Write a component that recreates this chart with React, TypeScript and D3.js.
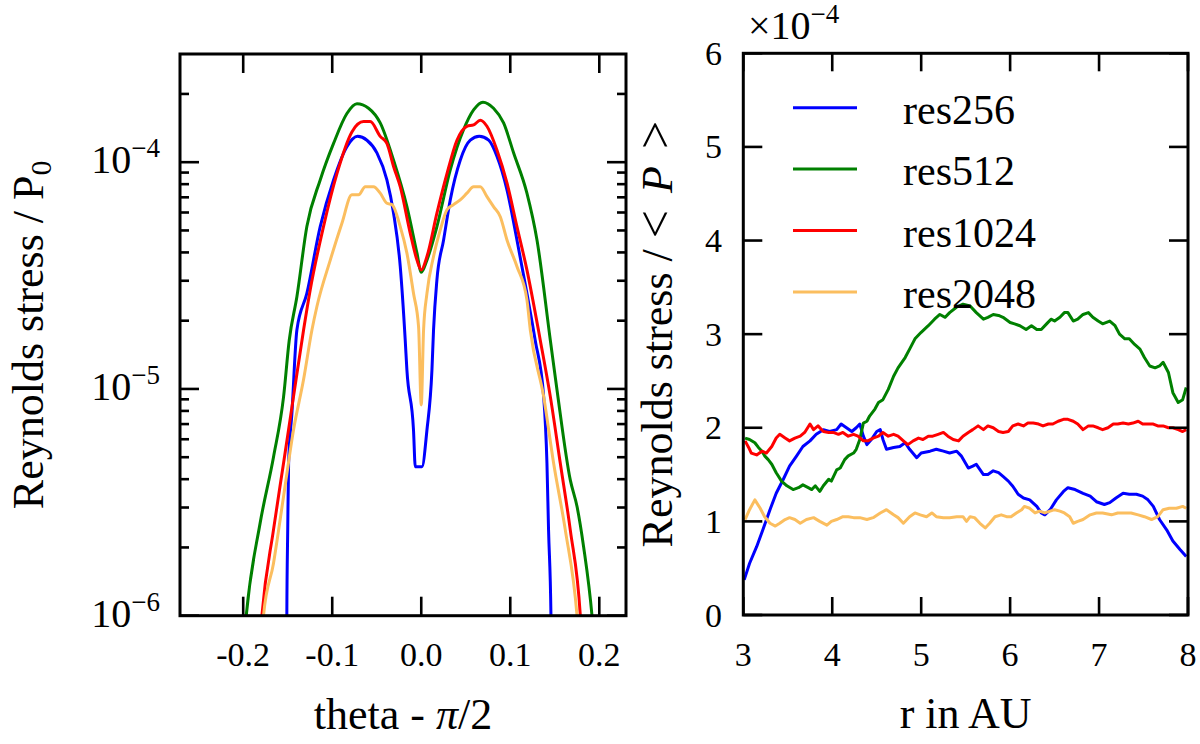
import { useRef, useEffect } from 'react';
import * as d3 from 'd3';

type Pt = [number, number];

const seriesNames = ['res256', 'res512', 'res1024', 'res2048'];
const seriesColors = ['#0000ff', '#008000', '#ff0000', '#fbbe5f'];

// Left panel: Reynolds stress / P0 against theta - pi/2 (log y)
const thetaRes256: Pt[] = [
  [-0.1515, 1e-7], [-0.151, 1e-6], [-0.15, 2.39e-6], [-0.149, 4.7e-6], [-0.1453, 7.8e-6],
  [-0.1397, 1.82e-5], [-0.1285, 2.64e-5], [-0.1135, 5.2e-5], [-0.0985, 8.35e-5], [-0.0835, 1.17e-4],
  [-0.0716, 1.3e-4], [-0.061, 1.25e-4], [-0.0498, 1.1e-4], [-0.0386, 8.35e-5], [-0.0311, 5.96e-5],
  [-0.0236, 3.47e-5], [-0.018, 1.64e-5], [-0.0161, 1.21e-5], [-0.0087, 6.59e-6], [-0.0067, 4.54e-6],
  [0.0008, 4.54e-6], [0.0064, 6.59e-6], [0.012, 1.21e-5], [0.0138, 1.82e-5], [0.0176, 3.03e-5],
  [0.0251, 4.54e-5], [0.0326, 6.82e-5], [0.0438, 1.02e-4], [0.0551, 1.25e-4], [0.0652, 1.3e-4],
  [0.0757, 1.25e-4], [0.0851, 1.06e-4], [0.0963, 7.55e-5], [0.1075, 4.54e-5], [0.1187, 2.64e-5],
  [0.128, 1.64e-5], [0.1375, 9.25e-6], [0.1412, 4.7e-6], [0.143, 2.39e-6], [0.1457, 1e-6], [0.146, 1e-7],
];
const thetaRes512: Pt[] = [
  [-0.2, 7e-7], [-0.1966, 1e-6], [-0.181, 2.56e-6], [-0.166, 5e-6], [-0.1547, 9.2e-6],
  [-0.1483, 1.64e-5], [-0.1397, 2.55e-5], [-0.1285, 5.2e-5], [-0.1135, 8.35e-5], [-0.0985, 1.21e-4],
  [-0.0835, 1.64e-4], [-0.0722, 1.81e-4], [-0.0592, 1.73e-4], [-0.0461, 1.49e-4], [-0.0311, 1.02e-4],
  [-0.0161, 6.37e-5], [-0.0048, 3.97e-5], [0, 3.27e-5], [0.0064, 3.7e-5], [0.0176, 5.2e-5],
  [0.0326, 9.25e-5], [0.0475, 1.39e-4], [0.0588, 1.7e-4], [0.0693, 1.84e-4], [0.0812, 1.73e-4],
  [0.0925, 1.49e-4], [0.1037, 1.1e-4], [0.1187, 7.3e-5], [0.13, 4.54e-5], [0.145, 1.64e-5],
  [0.1525, 9.9e-6], [0.1674, 3.97e-6], [0.175, 3.03e-6], [0.1824, 2.01e-6], [0.1918, 1e-6], [0.195, 7e-7],
];
const thetaRes1024: Pt[] = [
  [-0.182, 7e-7], [-0.179, 1e-6], [-0.166, 2.39e-6], [-0.1547, 4.7e-6], [-0.1435, 9.25e-6],
  [-0.1322, 1.82e-5], [-0.1247, 2.74e-5], [-0.1098, 5.2e-5], [-0.0947, 8.9e-5], [-0.0779, 1.36e-4],
  [-0.0648, 1.51e-4], [-0.0573, 1.51e-4], [-0.0461, 1.3e-4], [-0.0386, 1.21e-4], [-0.0311, 9.57e-5],
  [-0.0236, 7.8e-5], [-0.0124, 4.87e-5], [-0.0048, 3.7e-5], [0, 3.35e-5], [0.0064, 3.84e-5],
  [0.0176, 5.96e-5], [0.0289, 8.9e-5], [0.0401, 1.25e-4], [0.0513, 1.44e-4], [0.0588, 1.46e-4],
  [0.0663, 1.53e-4], [0.0738, 1.44e-4], [0.0851, 1.13e-4], [0.0963, 8.1e-5], [0.1075, 5.2e-5],
  [0.1187, 3.35e-5], [0.1337, 1.64e-5], [0.145, 9.25e-6], [0.1562, 4.7e-6], [0.1674, 2.39e-6],
  [0.1787, 1e-6], [0.181, 7e-7],
];
const thetaRes2048: Pt[] = [
  [-0.18, 7e-7], [-0.1772, 1e-6], [-0.166, 1.7e-6], [-0.1547, 3.35e-6], [-0.1435, 6.59e-6],
  [-0.1322, 1.1e-5], [-0.1228, 1.82e-5], [-0.1172, 2.31e-5], [-0.1022, 3.7e-5], [-0.0891, 5.38e-5],
  [-0.0779, 7.18e-5], [-0.0704, 7.18e-5], [-0.0629, 7.8e-5], [-0.0536, 7.8e-5], [-0.0461, 7.3e-5],
  [-0.0386, 6.59e-5], [-0.0329, 6.5e-5], [-0.0236, 5.2e-5], [-0.0161, 3.97e-5], [-0.0087, 2.64e-5],
  [-0.003, 1.88e-5], [0, 8.5e-6], [0.0026, 1.82e-5], [0.0064, 2.64e-5], [0.0138, 3.84e-5],
  [0.0213, 5.02e-5], [0.0289, 6.17e-5], [0.0363, 6.5e-5], [0.0438, 6.82e-5], [0.0513, 7.3e-5],
  [0.0588, 7.8e-5], [0.0663, 7.8e-5], [0.0738, 7.05e-5], [0.0812, 6.37e-5], [0.0888, 5.75e-5],
  [0.0963, 4.54e-5], [0.1075, 3.47e-5], [0.1187, 2.47e-5], [0.1225, 1.82e-5], [0.1375, 9.25e-6],
  [0.1487, 4.7e-6], [0.1618, 2.39e-6], [0.175, 1e-6], [0.178, 7e-7],
];

// Right panel: Reynolds stress / <P> (units of 1e-4) against r in AU
const radiusRes256: Pt[] = [
  [3.01, 0.375], [3.07, 0.55], [3.15, 0.73], [3.22, 0.91], [3.3, 1.125], [3.37, 1.3], [3.45, 1.45],
  [3.52, 1.59], [3.6, 1.7], [3.67, 1.8], [3.75, 1.86], [3.82, 1.93], [3.9, 1.98], [3.97, 1.96],
  [4.05, 1.98], [4.1, 2.04], [4.16, 2.0], [4.22, 1.96], [4.27, 2.0], [4.31, 2.04], [4.35, 1.91],
  [4.39, 1.82], [4.44, 1.875], [4.5, 1.96], [4.54, 1.98], [4.57, 1.875], [4.61, 1.77], [4.69, 1.79],
  [4.76, 1.8], [4.82, 1.84], [4.87, 1.77], [4.95, 1.68], [5.0, 1.73], [5.1, 1.75], [5.17, 1.77],
  [5.25, 1.75], [5.32, 1.73], [5.4, 1.75], [5.45, 1.7], [5.53, 1.57], [5.58, 1.59], [5.62, 1.61],
  [5.7, 1.5], [5.75, 1.5], [5.81, 1.54], [5.87, 1.52], [5.92, 1.48], [5.98, 1.43], [6.03, 1.375],
  [6.09, 1.29], [6.15, 1.25], [6.22, 1.23], [6.3, 1.16], [6.35, 1.09], [6.39, 1.07], [6.45, 1.125],
  [6.52, 1.23], [6.6, 1.32], [6.65, 1.36], [6.73, 1.34], [6.82, 1.3], [6.9, 1.27], [6.97, 1.21],
  [7.06, 1.18], [7.12, 1.2], [7.19, 1.25], [7.27, 1.3], [7.34, 1.29], [7.42, 1.29], [7.49, 1.27],
  [7.55, 1.23], [7.61, 1.16], [7.68, 1.02], [7.76, 0.91], [7.83, 0.79], [7.91, 0.7], [7.98, 0.625],
];
const radiusRes512: Pt[] = [
  [3.02, 1.89], [3.07, 1.875], [3.13, 1.84], [3.17, 1.79], [3.21, 1.75], [3.24, 1.7], [3.28, 1.66],
  [3.32, 1.61], [3.37, 1.52], [3.43, 1.43], [3.49, 1.38], [3.56, 1.34], [3.62, 1.36], [3.67, 1.39],
  [3.73, 1.36], [3.77, 1.34], [3.81, 1.38], [3.86, 1.32], [3.9, 1.38], [3.96, 1.45], [3.99, 1.43],
  [4.05, 1.55], [4.09, 1.57], [4.14, 1.66], [4.18, 1.7], [4.24, 1.73], [4.27, 1.77], [4.31, 1.875],
  [4.35, 2.05], [4.39, 2.07], [4.42, 2.125], [4.48, 2.2], [4.52, 2.27], [4.57, 2.3], [4.63, 2.41],
  [4.69, 2.55], [4.74, 2.64], [4.82, 2.75], [4.87, 2.84], [4.93, 2.95], [5.0, 3.02], [5.08, 3.09],
  [5.15, 3.16], [5.21, 3.21], [5.27, 3.18], [5.32, 3.23], [5.4, 3.29], [5.47, 3.32], [5.55, 3.3],
  [5.62, 3.23], [5.7, 3.16], [5.75, 3.18], [5.81, 3.21], [5.87, 3.2], [5.92, 3.18], [6.0, 3.125],
  [6.05, 3.11], [6.11, 3.09], [6.18, 3.05], [6.24, 3.09], [6.3, 3.05], [6.35, 3.05], [6.41, 3.11],
  [6.46, 3.16], [6.5, 3.14], [6.56, 3.18], [6.61, 3.23], [6.65, 3.23], [6.71, 3.14], [6.76, 3.16],
  [6.82, 3.21], [6.88, 3.23], [6.93, 3.18], [6.99, 3.14], [7.04, 3.11], [7.12, 3.14], [7.18, 3.09],
  [7.23, 3.0], [7.29, 2.95], [7.34, 2.95], [7.4, 2.89], [7.46, 2.84], [7.51, 2.75], [7.57, 2.66],
  [7.63, 2.64], [7.68, 2.66], [7.72, 2.7], [7.78, 2.59], [7.83, 2.375], [7.89, 2.27], [7.94, 2.3],
  [7.98, 2.43],
];
const radiusRes1024: Pt[] = [
  [3.02, 1.86], [3.06, 1.79], [3.09, 1.73], [3.15, 1.71], [3.21, 1.75], [3.26, 1.73], [3.32, 1.8],
  [3.37, 1.89], [3.41, 1.93], [3.47, 1.89], [3.52, 1.86], [3.58, 1.89], [3.64, 1.91], [3.69, 1.95],
  [3.75, 2.04], [3.79, 1.98], [3.84, 2.02], [3.9, 1.96], [3.96, 1.95], [4.01, 1.95], [4.07, 1.93],
  [4.12, 1.95], [4.18, 1.91], [4.24, 1.93], [4.29, 1.91], [4.35, 1.86], [4.4, 1.86], [4.46, 1.89],
  [4.52, 1.91], [4.57, 1.95], [4.63, 1.91], [4.69, 1.93], [4.74, 1.91], [4.8, 1.86], [4.85, 1.82],
  [4.91, 1.86], [4.97, 1.89], [5.02, 1.875], [5.08, 1.91], [5.13, 1.91], [5.19, 1.93], [5.25, 1.95],
  [5.3, 1.91], [5.36, 1.875], [5.42, 1.86], [5.47, 1.91], [5.53, 1.95], [5.58, 1.98], [5.64, 2.02],
  [5.7, 1.98], [5.75, 2.02], [5.81, 2.0], [5.87, 1.96], [5.92, 1.95], [5.98, 1.96], [6.03, 2.02],
  [6.09, 2.04], [6.15, 2.02], [6.2, 2.05], [6.26, 2.05], [6.32, 2.04], [6.37, 2.02], [6.43, 2.04],
  [6.48, 2.04], [6.54, 2.07], [6.6, 2.09], [6.65, 2.09], [6.71, 2.07], [6.76, 2.04], [6.82, 1.98],
  [6.88, 2.02], [6.93, 2.02], [6.99, 2.0], [7.04, 1.98], [7.1, 2.0], [7.16, 2.04], [7.21, 2.04],
  [7.27, 2.05], [7.33, 2.04], [7.38, 2.05], [7.44, 2.07], [7.49, 2.04], [7.55, 2.04], [7.61, 2.04],
  [7.66, 2.02], [7.72, 2.02], [7.78, 2.0], [7.83, 2.0], [7.89, 1.98], [7.94, 1.96], [7.98, 1.98],
];
const radiusRes2048: Pt[] = [
  [3.02, 1.02], [3.07, 1.125], [3.13, 1.23], [3.19, 1.14], [3.24, 1.05], [3.3, 0.98], [3.36, 0.95],
  [3.41, 0.98], [3.47, 1.02], [3.52, 1.04], [3.58, 1.02], [3.64, 0.98], [3.71, 1.02], [3.79, 1.04],
  [3.86, 1.0], [3.94, 0.96], [3.99, 1.0], [4.05, 1.02], [4.12, 1.05], [4.18, 1.05], [4.24, 1.04],
  [4.31, 1.04], [4.39, 1.02], [4.46, 1.04], [4.54, 1.09], [4.61, 1.125], [4.69, 1.07], [4.74, 1.04],
  [4.8, 0.98], [4.87, 1.05], [4.93, 1.09], [4.99, 1.07], [5.06, 1.05], [5.12, 1.09], [5.17, 1.05],
  [5.25, 1.04], [5.32, 1.04], [5.4, 1.05], [5.47, 1.05], [5.51, 1.0], [5.55, 1.05], [5.6, 1.04],
  [5.66, 0.98], [5.72, 0.93], [5.77, 0.98], [5.83, 1.05], [5.9, 1.07], [5.96, 1.05], [6.01, 1.05],
  [6.07, 1.09], [6.13, 1.125], [6.16, 1.16], [6.22, 1.14], [6.28, 1.09], [6.33, 1.11], [6.39, 1.09],
  [6.45, 1.11], [6.5, 1.125], [6.56, 1.11], [6.61, 1.09], [6.67, 1.05], [6.71, 0.98], [6.76, 1.0],
  [6.82, 1.02], [6.9, 1.07], [6.97, 1.09], [7.04, 1.09], [7.14, 1.07], [7.21, 1.09], [7.29, 1.09],
  [7.36, 1.09], [7.44, 1.07], [7.51, 1.05], [7.59, 1.02], [7.66, 1.05], [7.72, 1.125], [7.79, 1.14],
  [7.87, 1.14], [7.94, 1.16], [7.98, 1.14],
];

const thetaSeries = [thetaRes256, thetaRes512, thetaRes1024, thetaRes2048];
const radiusSeries = [radiusRes256, radiusRes512, radiusRes1024, radiusRes2048];

const thetaTicks = [-0.2, -0.1, 0.0, 0.1, 0.2];
const thetaTickLabels = ['-0.2', '-0.1', '0.0', '0.1', '0.2'];
const stressDecades = [1e-6, 1e-5, 1e-4];
const stressExponents = ['\u22126', '\u22125', '\u22124'];
const radiusTicks = [3, 4, 5, 6, 7, 8];
const ratioTicks = [0, 1, 2, 3, 4, 5, 6];

const FONT = '"Liberation Serif", "Times New Roman", Tinos, Times, "DejaVu Serif", serif';

export default function App() {
  const svgRef = useRef<SVGSVGElement>(null);

  useEffect(() => {
    if (!svgRef.current) return;
    const svg = d3.select(svgRef.current);
    svg.selectAll('*').remove();

    const defs = svg.append('defs');
    const txt = () => svg.append('text').style('font-family', FONT).attr('fill', '#000');

    const drawFrame = (box: { x0: number; x1: number; y0: number; y1: number }) => {
      svg.append('rect')
        .attr('x', box.x0).attr('y', box.y0)
        .attr('width', box.x1 - box.x0).attr('height', box.y1 - box.y0)
        .attr('fill', 'none').attr('stroke', '#000').attr('stroke-width', 3);
    };

    const tickX = (box: any, px: number, len: number) => {
      [[box.y1, box.y1 - len], [box.y0, box.y0 + len]].forEach(([a, b]) => {
        svg.append('line').attr('x1', px).attr('x2', px).attr('y1', a).attr('y2', b)
          .attr('stroke', '#000').attr('stroke-width', 2.6);
      });
    };
    const tickY = (box: any, py: number, len: number) => {
      [[box.x0, box.x0 + len], [box.x1, box.x1 - len]].forEach(([a, b]) => {
        svg.append('line').attr('y1', py).attr('y2', py).attr('x1', a).attr('x2', b)
          .attr('stroke', '#000').attr('stroke-width', 2.6);
      });
    };

    // ---------- left panel ----------
    const L = { x0: 180, x1: 626, y0: 54, y1: 615.7 };
    const xL = d3.scaleLinear().domain([-0.271, 0.23]).range([L.x0, L.x1]);
    const yL = d3.scaleLog().domain([1e-6, 3e-4]).range([L.y1, L.y0]);

    defs.append('clipPath').attr('id', 'clipL')
      .append('rect').attr('x', L.x0).attr('y', L.y0)
      .attr('width', L.x1 - L.x0).attr('height', L.y1 - L.y0);

    const lineL = d3.line<Pt>().x((d) => xL(d[0])).y((d) => yL(d[1])).curve(d3.curveMonotoneX);
    const gL = svg.append('g').attr('clip-path', 'url(#clipL)');
    thetaSeries.forEach((s, i) => {
      gL.append('path').datum(s)
        .attr('fill', 'none').attr('stroke', seriesColors[i])
        .attr('stroke-width', 3).attr('stroke-linejoin', 'round')
        .attr('d', lineL);
    });

    thetaTicks.forEach((t, i) => {
      tickX(L, xL(t), 19);
      txt()
        .attr('x', xL(t)).attr('y', 666)
        .attr('text-anchor', 'middle').attr('font-size', 34)
        .text(thetaTickLabels[i]);
    });

    stressDecades.forEach((d, i) => {
      tickY(L, yL(d), 19);
      const t = txt()
        .attr('x', 160).attr('y', yL(d) + 11)
        .attr('text-anchor', 'end').attr('font-size', 40);
      t.append('tspan').text('10');
      t.append('tspan').attr('dy', -16).attr('font-size', 27).text(stressExponents[i]);
      for (let m = 2; m <= 9; m++) {
        const v = m * d;
        if (v < 3e-4) tickY(L, yL(v), 9);
      }
    });

    drawFrame(L);

    const xtL = txt()
      .attr('x', (L.x0 + L.x1) / 2).attr('y', 729)
      .attr('text-anchor', 'middle').attr('font-size', 44);
    xtL.append('tspan').text('theta - ');
    xtL.append('tspan').attr('font-style', 'italic').text('\u03c0');
    xtL.append('tspan').text('/2');

    const ytL = txt()
      .attr('transform', `translate(43,${(L.y0 + L.y1) / 2}) rotate(-90)`)
      .attr('text-anchor', 'middle').attr('font-size', 44);
    ytL.append('tspan').text('Reynolds stress / P');
    ytL.append('tspan').attr('dy', 8).attr('font-size', 30).text('0');

    // ---------- right panel ----------
    const R = { x0: 743.3, x1: 1188, y0: 53.3, y1: 615 };
    const xR = d3.scaleLinear().domain([3, 8]).range([R.x0, R.x1]);
    const yR = d3.scaleLinear().domain([0, 6]).range([R.y1, R.y0]);

    defs.append('clipPath').attr('id', 'clipR')
      .append('rect').attr('x', R.x0).attr('y', R.y0)
      .attr('width', R.x1 - R.x0).attr('height', R.y1 - R.y0);

    const lineR = d3.line<Pt>().x((d) => xR(d[0])).y((d) => yR(d[1]));
    const gR = svg.append('g').attr('clip-path', 'url(#clipR)');
    radiusSeries.forEach((s, i) => {
      gR.append('path').datum(s)
        .attr('fill', 'none').attr('stroke', seriesColors[i])
        .attr('stroke-width', 3).attr('stroke-linejoin', 'round')
        .attr('d', lineR);
    });

    radiusTicks.forEach((t) => {
      tickX(R, xR(t), 18);
      txt()
        .attr('x', xR(t)).attr('y', 666)
        .attr('text-anchor', 'middle').attr('font-size', 34)
        .text(String(t));
    });
    ratioTicks.forEach((t) => {
      tickY(R, yR(t), 19);
      txt()
        .attr('x', 722).attr('y', yR(t) + 11.5)
        .attr('text-anchor', 'end').attr('font-size', 34)
        .text(String(t));
    });

    drawFrame(R);

    const off = txt().attr('x', 748).attr('y', 39).attr('font-size', 40);
    off.append('tspan').text('\u00d710');
    off.append('tspan').attr('dy', -16).attr('font-size', 27).text('\u22124');

    txt()
      .attr('x', (R.x0 + R.x1) / 2).attr('y', 728)
      .attr('text-anchor', 'middle').attr('font-size', 44)
      .text('r in AU');

    const ytR = txt()
      .attr('transform', `translate(672,${(R.y0 + R.y1) / 2}) rotate(-90)`)
      .attr('text-anchor', 'middle').attr('font-size', 44);
    ytR.append('tspan').text('Reynolds stress / ');
    ytR.append('tspan').attr('font-size', 50).text('<');
    ytR.append('tspan').attr('dx', 17).attr('font-style', 'italic').text('P');
    ytR.append('tspan').attr('dx', 17).attr('font-size', 50).text('>');

    // legend
    const legendY = [107.7, 168.9, 230.5, 292];
    seriesNames.forEach((name, i) => {
      svg.append('line')
        .attr('x1', 793).attr('x2', 857).attr('y1', legendY[i]).attr('y2', legendY[i])
        .attr('stroke', seriesColors[i]).attr('stroke-width', 3);
      txt()
        .attr('x', 903).attr('y', legendY[i] + 16)
        .attr('font-size', 42)
        .text(name);
    });
  }, []);

  return (
    <svg
      ref={svgRef}
      width={1200}
      height={744}
      style={{ position: 'absolute', left: 0, top: 0, background: '#fff' }}
    />
  );
}
